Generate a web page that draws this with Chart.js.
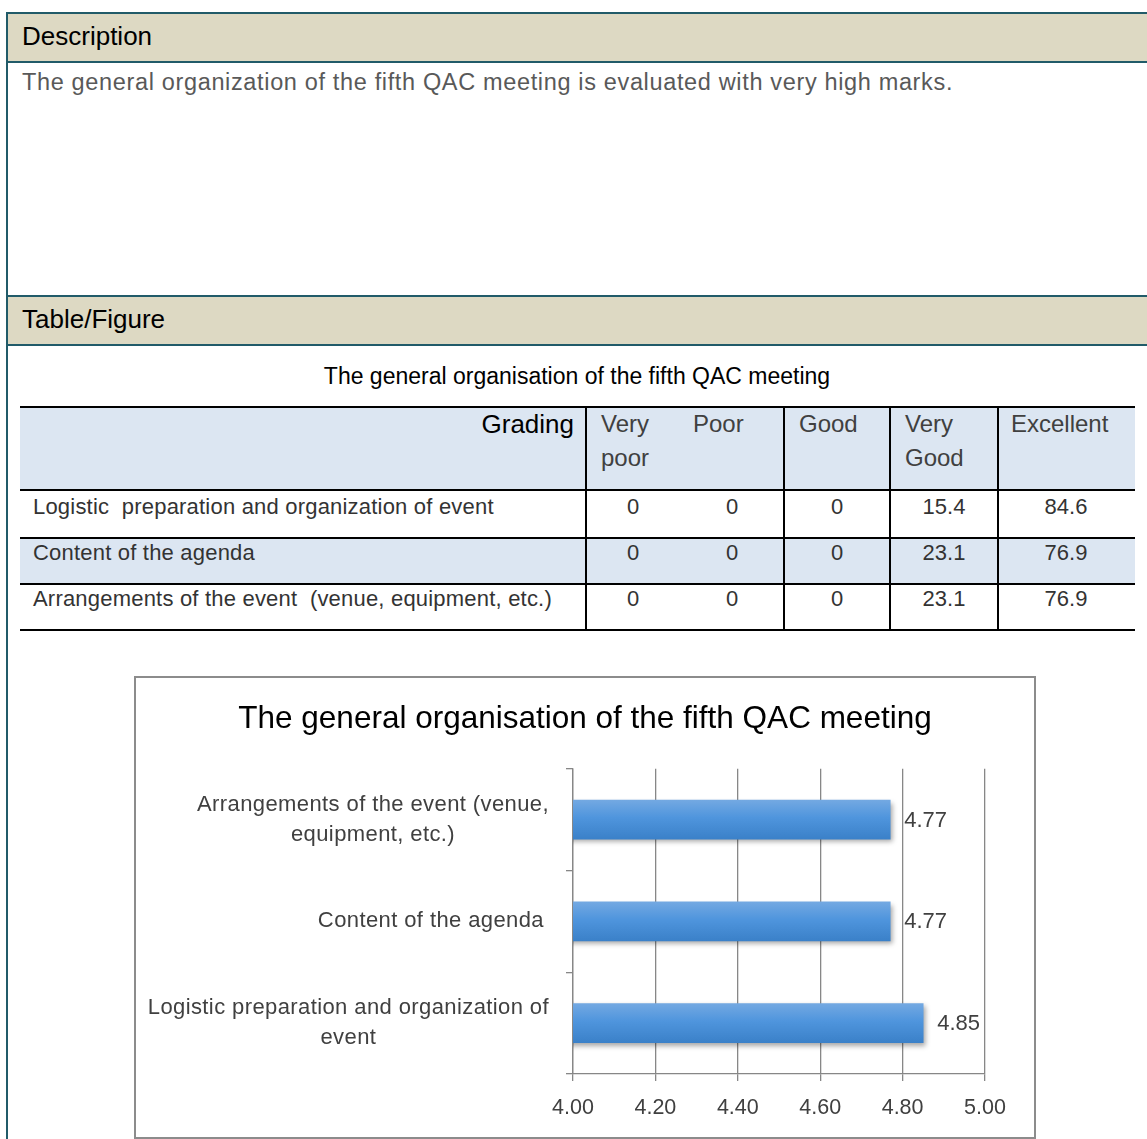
<!DOCTYPE html>
<html>
<head>
<meta charset="utf-8">
<script src="https://cdn.jsdelivr.net/npm/chart.js@4.4.1/dist/chart.umd.min.js"></script>
<style>
  html, body { margin: 0; padding: 0; background: #fff; width: 1147px; height: 1139px; overflow: hidden; }
  body { position: relative; font-family: "Liberation Sans", Arial, sans-serif; }
  .abs { position: absolute; }
  .teal-h { position: absolute; left: 6px; width: 1160px; height: 2px; background: #215b69; }
  .hdr { position: absolute; left: 8px; width: 1160px; background: #ddd9c3; }
  .hdr span { position: absolute; left: 14px; font-size: 26px; color: #000; white-space: nowrap; }
  .cell { position: absolute; white-space: nowrap; line-height: 34px; }
  .hline { position: absolute; left: 20px; width: 1115px; height: 2px; background: #000; }
  .vline { position: absolute; top: 406px; height: 225px; width: 2px; background: #000; }
</style>
</head>
<body>
<!-- outer frame -->
<div class="abs" style="left:6px;top:12px;width:2px;height:1140px;background:#215b69;"></div>
<div class="teal-h" style="top:12px;"></div>
<div class="hdr" style="top:14px;height:47px;"><span style="top:7px;">Description</span></div>
<div class="teal-h" style="top:61px;"></div>
<div class="abs" id="desc" style="left:22px;top:69px;font-size:23.5px;letter-spacing:0.65px;color:#595959;white-space:nowrap;"></div>
<div class="teal-h" style="top:295px;"></div>
<div class="hdr" style="top:297px;height:47px;"><span style="top:7px;">Table/Figure</span></div>
<div class="teal-h" style="top:344px;"></div>

<div class="abs" id="tableTitle" style="left:0;width:1154px;top:363px;text-align:center;font-size:23px;color:#000;white-space:nowrap;"></div>

<div id="tbl"></div>

<!-- chart box -->
<div class="abs" style="left:134px;top:676px;width:902px;height:463px;border:2px solid #8c8c8c;box-sizing:border-box;"></div>
<div class="abs" style="left:136px;top:678px;width:898px;height:459px;">
  <canvas id="c" width="898" height="459"></canvas>
</div>

<script>
// ---------- data ----------
const descriptionText = "The general organization of the fifth QAC meeting is evaluated with very high marks.";
const chartTitle = "The general organisation of the fifth QAC meeting";
const gradingLabels = [["Very", "poor"], ["Poor"], ["Good"], ["Very", "Good"], ["Excellent"]];
const tableRows = ["Logistic  preparation and organization of event", "Content of the agenda", "Arrangements of the event  (venue, equipment, etc.)"];
const veryPoor = [0, 0, 0];
const poor = [0, 0, 0];
const good = [0, 0, 0];
const veryGood = [15.4, 23.1, 23.1];
const excellent = [84.6, 76.9, 76.9];

// chart (top to bottom)
const chartCategories = [["Arrangements of the event (venue,", "equipment, etc.)"], ["Content of the agenda"], ["Logistic preparation and organization of", "event"]];
const meanScores = [4.77, 4.77, 4.85];
const xTicks = [4.00, 4.20, 4.40, 4.60, 4.80, 5.00];

// ---------- page text ----------
document.getElementById('desc').textContent = descriptionText;
document.getElementById('tableTitle').textContent = chartTitle;

// ---------- table ----------
(function buildTable() {
  const t = document.getElementById('tbl');
  let h = '';
  h += '<div class="abs" style="left:20px;top:406px;width:1115px;height:84px;background:#dce6f2;"></div>';
  h += '<div class="abs" style="left:20px;top:537px;width:1115px;height:47px;background:#dce6f2;"></div>';
  [406, 489, 537, 583, 629].forEach(y => { h += '<div class="hline" style="top:' + y + 'px;"></div>'; });
  [585, 783, 889, 997].forEach(x => { h += '<div class="vline" style="left:' + x + 'px;"></div>'; });
  h += '<div class="cell" style="right:' + (1147 - 574) + 'px;top:407px;font-size:26px;color:#000;">Grading</div>';
  const hx = [601, 693, 799, 905, 1011];
  gradingLabels.forEach((lines, i) => {
    lines.forEach((ln, j) => {
      h += '<div class="cell" style="left:' + hx[i] + 'px;top:' + (407 + j * 34) + 'px;font-size:24px;color:#404040;">' + ln + '</div>';
    });
  });
  const rowY = [490, 536, 582];
  const colC = [633, 732, 837, 944, 1066];
  const cols = [veryPoor, poor, good, veryGood, excellent];
  tableRows.forEach((name, r) => {
    h += '<div class="cell" style="left:33px;top:' + rowY[r] + 'px;font-size:22px;letter-spacing:0.2px;color:#333;white-space:pre;">' + name + '</div>';
    cols.forEach((arr, c) => {
      h += '<div class="cell" style="left:' + (colC[c] - 60) + 'px;width:120px;text-align:center;top:' + rowY[r] + 'px;font-size:22px;color:#333;">' + arr[r] + '</div>';
    });
  });
  t.innerHTML = h;
})();

// ---------- chart ----------
const FONT = '"Liberation Sans", Arial, sans-serif';
const GRID = '#878787';

const yLabelPlugin = {
  id: 'yLabels',
  afterDraw(chart) {
    const ctx = chart.ctx;
    const ys = chart.scales.y;
    const rightEdge = 413;
    ctx.save();
    ctx.font = '22px ' + FONT;
    if ('letterSpacing' in ctx) ctx.letterSpacing = '0.4px';
    ctx.fillStyle = '#404040';
    ctx.textAlign = 'center';
    ctx.textBaseline = 'middle';
    chartCategories.forEach((lines, i) => {
      const cy = ys.getPixelForTick(i);
      const maxW = Math.max(...lines.map(l => ctx.measureText(l).width));
      const cx = (lines.length === 1 ? rightEdge - 5 : rightEdge) - maxW / 2;
      const lh = 30;
      const top = cy - (lines.length - 1) * lh / 2;
      lines.forEach((l, j) => ctx.fillText(l, cx, top + j * lh));
    });
    ctx.restore();
  }
};

const shadowPlugin = {
  id: 'barShadow',
  beforeDatasetsDraw(chart) {
    const ctx = chart.ctx;
    ctx.save();
    ctx.shadowColor = 'rgba(0,0,0,0.35)';
    ctx.shadowBlur = 5;
    ctx.shadowOffsetX = 2;
    ctx.shadowOffsetY = 3;
  },
  afterDatasetsDraw(chart) {
    chart.ctx.restore();
    const ctx = chart.ctx;
    const meta = chart.getDatasetMeta(0);
    ctx.save();
    ctx.font = '22px ' + FONT;
    ctx.fillStyle = '#404040';
    ctx.textAlign = 'left';
    ctx.textBaseline = 'middle';
    meta.data.forEach((bar, i) => {
      ctx.fillText(meanScores[i].toFixed(2), bar.x + 14, bar.y + 1);
    });
    ctx.restore();
  }
};

function barFill(context) {
  const chart = context.chart;
  const ys = chart.scales && chart.scales.y;
  if (!ys || context.dataIndex === undefined || !chart.chartArea) return '#4a8fd8';
  const cy = ys.getPixelForValue(context.dataIndex);
  const g = chart.ctx.createLinearGradient(0, cy - 20, 0, cy + 20);
  g.addColorStop(0, '#74a9e2');
  g.addColorStop(0.45, '#4f95dd');
  g.addColorStop(1, '#3a80c8');
  return g;
}

new Chart(document.getElementById('c'), {
  type: 'bar',
  data: {
    labels: chartCategories,
    datasets: [{
      data: meanScores,
      backgroundColor: barFill,
      borderWidth: 0,
      barThickness: 39
    }]
  },
  options: {
    indexAxis: 'y',
    responsive: false,
    animation: false,
    devicePixelRatio: 1,
    layout: { padding: { top: 2, right: 0, bottom: 0, left: 0 } },
    plugins: {
      legend: { display: false },
      tooltip: { enabled: false },
      title: {
        display: true,
        text: chartTitle,
        color: '#000',
        font: { family: FONT, size: 31.5, weight: 'normal' },
        padding: { top: 20, bottom: 31 }
      }
    },
    scales: {
      x: {
        type: 'linear',
        min: 4,
        max: 5,
        afterBuildTicks(scale) { scale.ticks = xTicks.map(v => ({ value: v })); },
        ticks: {
          color: '#404040',
          font: { family: FONT, size: 21.5 },
          padding: 14,
          callback: v => Number(v).toFixed(2)
        },
        grid: { color: GRID, lineWidth: 1.3, tickLength: 7 },
        border: { color: GRID, width: 1.3 },
        afterFit(scale) { scale.height = 63; }
      },
      y: {
        type: 'category',
        offset: true,
        ticks: { color: 'rgba(0,0,0,0)', font: { family: FONT, size: 22 } },
        grid: { color: GRID, lineWidth: 1.3, tickLength: 7, drawOnChartArea: false, offset: true },
        border: { color: GRID, width: 1.3 },
        afterFit(scale) { scale.width = 437; }
      },
      yRight: {
        type: 'category',
        position: 'right',
        offset: true,
        ticks: { display: false },
        grid: { display: false },
        border: { display: false },
        afterFit(scale) { scale.width = 49; }
      }
    }
  },
  plugins: [shadowPlugin, yLabelPlugin]
});
</script>
</body>
</html>
